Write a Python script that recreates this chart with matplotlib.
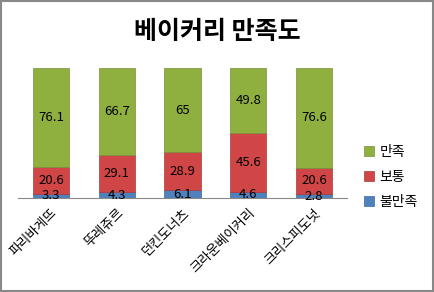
import numpy as np
import matplotlib
matplotlib.use("Agg")
import matplotlib.pyplot as plt
from matplotlib.patches import Rectangle

plt.rcParams['font.family'] = ['Noto Sans CJK KR', 'DejaVu Sans']

bakeries = ["파리바게뜨", "뚜레쥬르", "던킨도너츠", "크라운베이커리", "크리스피도넛"]
unsatisfied = [3.3, 4.3, 6.1, 4.6, 2.8]
neutral = [20.6, 29.1, 28.9, 45.6, 20.6]
satisfied = [76.1, 66.7, 65, 49.8, 76.6]

c_blue = "#4f81bd"
c_red = "#d04545"
c_green = "#8fb03f"

fig = plt.figure(figsize=(4.34, 2.92), dpi=100)
ax = fig.add_axes([0.0415, 0.322, 0.758, 0.445])

x = np.arange(len(bakeries))
w = 0.55
b1 = ax.bar(x, unsatisfied, w, color=c_blue, edgecolor="#3a6aa0", linewidth=0.5, label="불만족")
b2 = ax.bar(x, neutral, w, bottom=unsatisfied, color=c_red, edgecolor="#a83a38", linewidth=0.5, label="보통")
bottom2 = np.array(unsatisfied) + np.array(neutral)
b3 = ax.bar(x, satisfied, w, bottom=bottom2, color=c_green, edgecolor="#76923c", linewidth=0.5, label="만족")

for bars in (b1, b2, b3):
    ax.bar_label(bars, fmt="%g", label_type="center", fontsize=9.5, color="black")

ax.set_xlim(-0.5, 4.5)
ax.set_ylim(0, 100)
ax.set_yticks([])
ax.set_xticks(x)
ax.set_xticklabels(bakeries, rotation=45, ha="right", rotation_mode="anchor", fontsize=9.5)
ax.tick_params(axis="x", length=0, pad=6)
for s in ["top", "left", "right"]:
    ax.spines[s].set_visible(False)
ax.spines["bottom"].set_color("#888888")
ax.patch.set_alpha(0)

fig.text(0.5, 0.89, "베이커리 만족도", ha="center", va="center", fontsize=18, fontweight="bold")

fig.legend(handles=[b3, b2, b1], labels=["만족", "보통", "불만족"],
           loc="center left", bbox_to_anchor=(0.81, 0.395), frameon=False,
           fontsize=10, handlelength=0.7, handleheight=0.7, handletextpad=0.4,
           labelspacing=0.8)

fig.patches.append(Rectangle((0.002, 0.003), 0.995, 0.994, transform=fig.transFigure,
                             fill=False, edgecolor="#888888", linewidth=1.5))

fig.savefig("out.png", dpi=100)
